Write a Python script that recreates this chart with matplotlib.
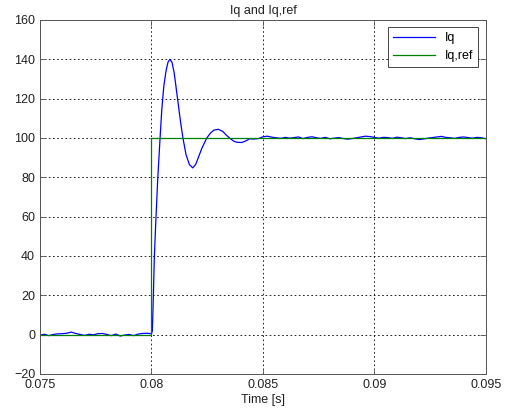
import numpy as np
import matplotlib.pyplot as plt

plt.rcParams['font.family'] = ['Liberation Sans', 'DejaVu Sans']

# Iq before the step (sampled every 0.2 ms from 0.075 s)
pre_dev = [-0.3, 0.2, -0.5, 0.1, 0.4, 0.5, 0.7, 1.3, 0.6, 0.1, -0.4, 0.2, -0.1,
           0.5, 0.6, 0.1, -0.5, 0.3, -0.7, -0.2, 0.1, -0.5, 0.3, 0.6, 0.7, 0.5]

# transient right after the reference step
trans_t = [0.08004, 0.08008, 0.08013, 0.0802, 0.08028, 0.08038, 0.08046, 0.08055,
           0.08065, 0.08074, 0.08083, 0.08092, 0.08102, 0.0811, 0.08118, 0.0813,
           0.08141, 0.08155, 0.0817, 0.08185, 0.08198, 0.0821, 0.08225, 0.08248,
           0.08265, 0.0828, 0.083, 0.0832, 0.08335, 0.08352, 0.0837, 0.08385,
           0.08406, 0.08425, 0.0844]
trans_iq = [2, 18, 40, 59, 79, 99, 114, 126, 134, 138.5, 140, 138.5, 133, 126,
            119, 108.5, 100, 91.5, 86.5, 84.8, 86.5, 90, 94.5, 100, 102.5, 104,
            104.4, 103.3, 101.5, 99.8, 98.3, 97.8, 97.7, 98.6, 99.6]

# steady state deviations around 100 (every 0.2 ms from 0.0846 s)
post_dev = [-0.5, -0.3, 0.6, 0.9, 0.4, 0.1, -0.2, 0.3, -0.1, 0.2, 0.5, -0.3, 0.3,
            0.6, 0.1, -0.2, 0.3, -0.4, -0.1, 0.2, -0.3, -0.6, -0.3, 0.1, 0.5, 0.9,
            0.7, 0.3, -0.1, 0.3, 0.2, -0.2, 0.4, 0.1, -0.3, 0.1, -0.4, -0.8, -0.5,
            -0.1, 0.2, 0.5, 0.8, 0.3, 0.1, -0.2, 0.3, 0.5, 0.2, -0.1, 0.3, 0.1, -0.4]

ref_t = [0.075, 0.08, 0.095]
ref_val = [0, 100, 100]

pre_t = 0.075 + 0.0002 * np.arange(len(pre_dev))
post_t = 0.0846 + 0.0002 * np.arange(len(post_dev))

t = np.concatenate([pre_t, trans_t, post_t])
iq = np.concatenate([np.array(pre_dev), trans_iq, 100 + np.array(post_dev)])

fig = plt.figure(figsize=(5.09, 4.16), dpi=100)
ax = fig.add_axes([0.0786, 0.101, 0.876, 0.851])

ax.plot(t, iq, color=(0, 0, 1), lw=0.9, label='Iq')
ax.plot(ref_t, ref_val, color=(0, 0.5, 0), lw=0.9, drawstyle='steps-post', label='Iq,ref')

ax.set_xlim(0.075, 0.095)
ax.set_ylim(-20, 160)
ax.set_xticks([0.075, 0.08, 0.085, 0.09, 0.095])
ax.set_xticklabels(['0.075', '0.08', '0.085', '0.09', '0.095'])
ax.set_yticks(range(-20, 161, 20))
ax.tick_params(direction='in', top=True, right=True, labelsize=9, length=4,
               width=0.6, color='#555555', labelcolor='#222222')
ax.grid(True, color='black', linestyle=(0, (2, 3)), lw=0.6)
for s in ax.spines.values():
    s.set_linewidth(0.7)
    s.set_color('#555555')

ax.set_title('Iq and Iq,ref', fontsize=9, pad=4, color='#222222')
ax.set_xlabel('Time [s]', fontsize=9, labelpad=2, color='#222222')

leg = ax.legend(loc='upper right', fontsize=9, fancybox=False, framealpha=1,
                edgecolor='#444444', handlelength=3.4, labelspacing=0.45,
                borderaxespad=0.6)
leg.get_frame().set_linewidth(0.7)

fig.savefig('out.png', dpi=100)
